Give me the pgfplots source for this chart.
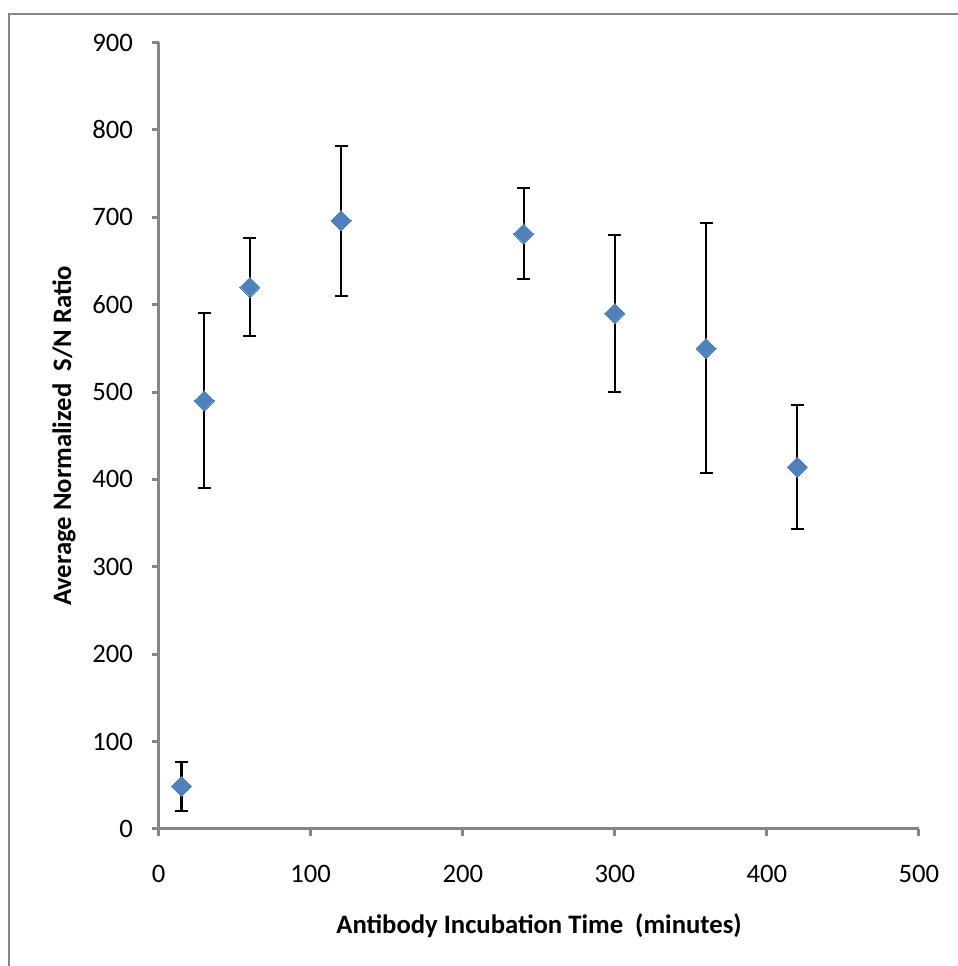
\documentclass[border=0pt]{standalone}
\usepackage{pgfplots}
\pgfplotsset{compat=1.18}
\usepackage{fontspec}
\setmainfont{Carlito}
\definecolor{axgray}{RGB}{134,134,134}
\definecolor{mblue}{RGB}{79,129,189}
\begin{document}
\begin{tikzpicture}[x=0.75pt,y=0.75pt]
\useasboundingbox (0,0) rectangle (957,966);
\draw[axgray, line width=1.5pt] (9,-20) -- (9,952) -- (980,952);
\begin{axis}[
  at={(119.0pt,102.75pt)}, anchor=south west,
  scale only axis, width=570.2pt, height=589.9pt,
  xmin=0, xmax=500, ymin=0, ymax=900,
  axis lines=left, axis line style={-, axgray, line width=2.25pt},
  xtick={0,100,...,500}, ytick={0,100,...,900},
  tick style={axgray, line width=2.25pt}, tick align=outside,
  major tick length=5.25pt,
  /pgf/number format/assume math mode=true,
  ticklabel style={font=\fontsize{20}{24}\selectfont},
  yticklabel style={xshift=-10.5pt},
  xticklabel style={yshift=-18pt},
  clip=false,
]
\addplot[only marks, mark=square*, mark size=5.3pt,
  mark options={rotate=45, fill=mblue, draw=mblue, line width=0pt},
  error bars/.cd, y dir=both, y explicit,
  error bar style={black, line width=1.6pt},
  error mark options={rotate=90, mark size=4.9pt, black, line width=1.6pt}]
  coordinates {
  (15,49) +- (0,28)
  (30,490) +- (0,100)
  (60,620) +- (0,56)
  (120,696) +- (0,86)
  (240,681) +- (0,52)
  (300,590) +- (0,90)
  (360,550) +- (0,143)
  (420,414) +- (0,71)
  };
\end{axis}
\node[font=\bfseries\fontsize{20}{24}\selectfont] at (539,40) {Antibody Incubation Time\ \ (minutes)};
\node[rotate=90, font=\bfseries\fontsize{20}{24}\selectfont] at (64,530) {Average Normalized\ \ S/N Ratio};
\end{tikzpicture}
\end{document}
